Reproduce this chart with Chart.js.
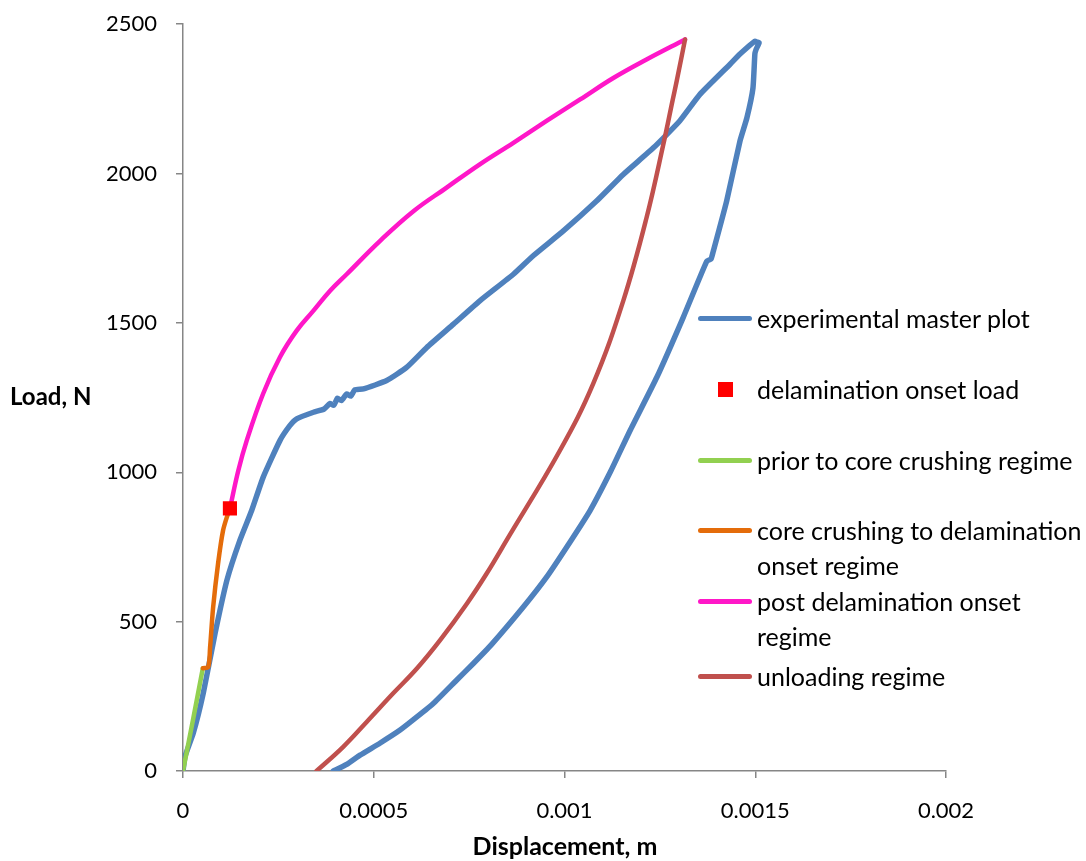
<!DOCTYPE html>
<html>
<head>
<meta charset="utf-8">
<script src="https://cdn.jsdelivr.net/npm/chart.js@4.4.1/dist/chart.umd.min.js"></script>
<style>
html,body{margin:0;padding:0;background:#fff;overflow:hidden;}
#wrap{position:relative;width:1086px;height:861px;overflow:hidden;font-family:Lato,"Noto Sans",sans-serif;color:#000;}
#c{position:absolute;left:0;top:-8px;}
.title{position:absolute;font-weight:bold;white-space:nowrap;}
#ytitle{left:10px;top:381px;font-size:24px;}
#xtitle{left:0;width:1130px;text-align:center;top:830px;font-size:25px;}
#legend{position:absolute;left:698px;top:0;}
.row{position:absolute;left:0;white-space:nowrap;font-size:25px;line-height:35px;}
.sw{position:absolute;left:0;width:54px;height:5px;border-radius:3px;}
.sq{position:absolute;left:20px;width:15px;height:15px;}
.txt{position:absolute;left:59px;top:0;}
</style>
</head>
<body>
<div id="wrap">
<canvas id="c" width="1086" height="869"></canvas>
<div id="ytitle" class="title">Load, N</div>
<div id="xtitle" class="title">Displacement, m</div>
<div id="legend"></div>
</div>
<script>
// ---- tick labels ----
const xTickLabels = ['0', '0.0005', '0.001', '0.0015', '0.002'];
const yTickLabels = ['0', '500', '1000', '1500', '2000', '2500'];

// ---- series names ----
const seriesNames = [
  'experimental master plot',
  'delamination onset load',
  'prior to core crushing regime',
  'core crushing to delamination\nonset regime',
  'post delamination onset\nregime',
  'unloading regime'
];

// ---- experimental master plot: loading branch (displacement m, load N) ----
const expLoadX = [0, 0.0000052, 0.000027, 0.000053, 0.000084, 0.000115, 0.000149, 0.000180, 0.000210, 0.000254, 0.000280, 0.000298,
  0.000342, 0.000370, 0.000385, 0.000395, 0.000405, 0.000415, 0.000429, 0.000440, 0.000450, 0.000473, 0.000534, 0.000586, 0.000639,
  0.000709, 0.000778, 0.000866, 0.000918, 0.000997, 0.001084, 0.001154, 0.001233, 0.001302, 0.001355, 0.001434, 0.001460,
  0.001499, 0.001505];
const expLoadY = [0, 48, 127, 260, 460, 638, 772, 872, 983, 1106, 1156, 1179,
  1201, 1212, 1230, 1224, 1248, 1240, 1262, 1255, 1276, 1279, 1307, 1351, 1418,
  1496, 1574, 1663, 1725, 1808, 1908, 1997, 2086, 2176, 2265, 2366, 2400,
  2443, 2440];

// ---- experimental master plot: unloading branch ----
const expUnloadX = [0.001510, 0.001502, 0.001499, 0.001494, 0.001478, 0.001460, 0.001425, 0.001390, 0.001384, 0.001373, 0.001311,
  0.001242, 0.001172, 0.001122, 0.001067, 0.001006, 0.000953, 0.000892, 0.000809, 0.000761, 0.000717, 0.000656, 0.000613, 0.000569,
  0.000516, 0.000464, 0.000429, 0.000394];
const expUnloadY = [2438, 2415, 2400, 2286, 2186, 2109, 1908, 1740, 1714, 1707, 1518,
  1318, 1140, 1006, 872, 750, 649, 549, 424, 360, 304, 226, 181, 137,
  93, 53, 22, 0];

// ---- delamination onset load ----
const onsetX = [0.000123];
const onsetY = [879];

// ---- prior to core crushing regime ----
const preX = [0, 0.000026, 0.000052];
const preY = [0, 170, 344];

// ---- core crushing to delamination onset regime ----
const coreX = [0.000052, 0.000066, 0.000071, 0.000079, 0.000092, 0.000105, 0.000118, 0.000123];
const coreY = [344, 348, 414, 548, 695, 805, 862, 879];

// ---- post delamination onset regime ----
const postX = [0.000123, 0.000145, 0.000167, 0.000210, 0.000254, 0.000298, 0.000342, 0.000385, 0.000429, 0.000516,
  0.000604, 0.000691, 0.000778, 0.000866, 0.000953, 0.001041, 0.001128, 0.001215, 0.001316];
const postY = [879, 1006, 1106, 1263, 1385, 1474, 1541, 1607, 1663, 1774,
  1874, 1953, 2031, 2103, 2176, 2248, 2320, 2382, 2449];

// ---- unloading regime ----
const unloadX = [0.001316, 0.001294, 0.001283, 0.001261, 0.001215, 0.001154, 0.001075, 0.000988, 0.000848,
  0.000796, 0.000744, 0.000674, 0.000613, 0.000551, 0.000482, 0.000420, 0.000350];
const unloadY = [2449, 2309, 2243, 2109, 1852, 1574, 1296, 1073, 772,
  661, 560, 438, 343, 260, 165, 81, 0];

const colors = ['#4F81BD', '#FF0000', '#92D050', '#E46C0A', '#FF17C8', '#C0504D'];

const toPts = (xs, ys) => xs.map((x, i) => ({x: x, y: ys[i]}));

const lineDs = (label, color, pts, order, tension, width) => ({
  label: label, data: pts, showLine: true, borderColor: color,
  backgroundColor: color, borderWidth: width, pointRadius: 0, tension: tension,
  borderCapStyle: 'round', borderJoinStyle: 'round', order: order
});

const datasets = [
  lineDs(seriesNames[0], colors[0], toPts(expLoadX, expLoadY).concat(toPts(expUnloadX, expUnloadY)), 6, 0.15, 5.5),
  {label: seriesNames[1], data: toPts(onsetX, onsetY), showLine: false, pointStyle: 'rect',
   pointRadius: 10, backgroundColor: colors[1], borderColor: colors[1], borderWidth: 0, order: 0},
  lineDs(seriesNames[2], colors[2], toPts(preX, preY), 4, 0, 4.5),
  lineDs(seriesNames[3], colors[3], toPts(coreX, coreY), 3, 0.3, 4.5),
  lineDs(seriesNames[4], colors[4], toPts(postX, postY), 2, 0.4, 4.5),
  lineDs(seriesNames[5], colors[5], toPts(unloadX, unloadY), 1, 0.4, 4.5)
];

const axisGray = '#868686';
new Chart(document.getElementById('c'), {
  type: 'scatter',
  data: {datasets: datasets},
  options: {
    responsive: false, animation: false, devicePixelRatio: 1,
    layout: {padding: {top: 5, right: 140, bottom: 0, left: 0}},
    plugins: {legend: {display: false}, tooltip: {enabled: false}},
    scales: {
      x: {
        type: 'linear', min: 0, max: 0.002,
        ticks: {stepSize: 0.0005, color: '#000', padding: 20, font: {family: 'Lato', size: 22},
          callback: (v, i) => xTickLabels[i], maxRotation: 0},
        grid: {drawOnChartArea: false, drawTicks: true, tickLength: 7, color: axisGray, lineWidth: 1.5},
        border: {color: axisGray, width: 1.5},
        afterFit: s => { s.height = 90; }
      },
      y: {
        type: 'linear', min: 0, max: 2500,
        ticks: {stepSize: 500, color: '#000', padding: 19, font: {family: 'Lato', size: 22},
          callback: (v, i) => yTickLabels[i]},
        grid: {drawOnChartArea: false, drawTicks: true, tickLength: 7, color: axisGray, lineWidth: 1.5},
        border: {color: axisGray, width: 1.5},
        afterFit: s => { s.width = 183; }
      }
    }
  }
});

// ---- legend overlay ----
const legendRows = [318, 389, 460, 530, 601, 676];
const leg = document.getElementById('legend');
seriesNames.forEach((name, i) => {
  const row = document.createElement('div');
  row.className = 'row';
  row.style.top = (legendRows[i] - 17.5) + 'px';
  const sw = document.createElement('div');
  if (i === 1) { sw.className = 'sq'; sw.style.top = '10px'; }
  else { sw.className = 'sw'; sw.style.top = '15px'; }
  sw.style.background = colors[i];
  const t = document.createElement('div');
  t.className = 'txt';
  t.innerHTML = name.replace('\n', '<br>');
  row.appendChild(sw); row.appendChild(t);
  leg.appendChild(row);
});
</script>
</body>
</html>
